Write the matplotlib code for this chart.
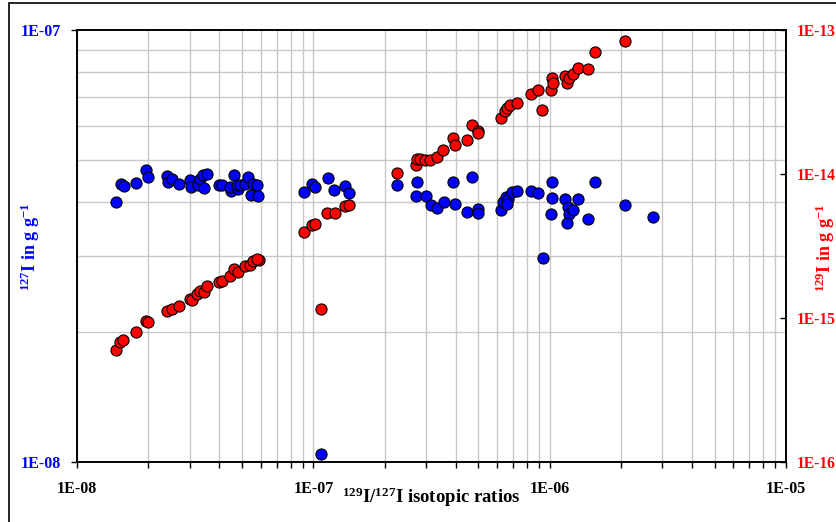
import matplotlib
matplotlib.use('Agg')
import matplotlib.pyplot as plt
from matplotlib.patches import Rectangle
from matplotlib.ticker import FixedLocator, FixedFormatter, NullFormatter, LogLocator

# 127I (left axis, blue) vs 129I/127I ratio
ratio_127 = [1.46e-8, 1.53e-8, 1.57e-8, 1.77e-8, 1.95e-8, 1.99e-8, 2.39e-8, 2.41e-8,
             2.52e-8, 2.70e-8, 3.00e-8, 3.03e-8, 3.24e-8, 3.31e-8, 3.42e-8, 3.53e-8,
             3.44e-8, 3.98e-8, 4.10e-8, 4.46e-8, 4.43e-8, 4.63e-8, 4.77e-8, 4.76e-8,
             4.89e-8, 5.11e-8, 5.28e-8, 5.42e-8, 5.56e-8, 5.85e-8, 5.77e-8,
             9.15e-8, 9.89e-8, 1.013e-7, 1.150e-7, 1.226e-7, 1.361e-7, 1.415e-7, 1.077e-7,
             2.26e-7, 2.74e-7, 2.72e-7, 3.00e-7, 3.14e-7, 3.33e-7, 3.57e-7, 3.91e-7,
             3.97e-7, 4.46e-7, 4.71e-7, 4.99e-7, 4.99e-7, 6.23e-7, 6.37e-7, 6.54e-7,
             6.69e-7, 6.59e-7, 6.92e-7, 7.26e-7, 8.37e-7, 8.91e-7, 9.35e-7, 1.022e-6,
             1.028e-6, 1.012e-6, 1.164e-6, 1.202e-6, 1.213e-6, 1.183e-6, 1.262e-6,
             1.324e-6, 1.455e-6, 1.563e-6, 2.09e-6, 2.74e-6]
i127 = [4.01e-8, 4.40e-8, 4.36e-8, 4.43e-8, 4.74e-8, 4.57e-8, 4.60e-8, 4.44e-8,
        4.51e-8, 4.41e-8, 4.49e-8, 4.33e-8, 4.37e-8, 4.51e-8, 4.61e-8, 4.65e-8,
        4.31e-8, 4.37e-8, 4.38e-8, 4.24e-8, 4.34e-8, 4.61e-8, 4.28e-8, 4.37e-8,
        4.38e-8, 4.41e-8, 4.56e-8, 4.16e-8, 4.41e-8, 4.12e-8, 4.37e-8,
        4.22e-8, 4.41e-8, 4.33e-8, 4.54e-8, 4.27e-8, 4.36e-8, 4.20e-8, 1.04e-8,
        4.37e-8, 4.44e-8, 4.14e-8, 4.14e-8, 3.93e-8, 3.88e-8, 4.01e-8, 4.46e-8,
        3.96e-8, 3.79e-8, 4.58e-8, 3.85e-8, 3.78e-8, 3.84e-8, 4.01e-8, 4.10e-8,
        4.06e-8, 3.96e-8, 4.21e-8, 4.23e-8, 4.25e-8, 4.19e-8, 2.96e-8, 4.46e-8,
        4.09e-8, 3.75e-8, 4.06e-8, 3.89e-8, 3.75e-8, 3.57e-8, 3.83e-8,
        4.06e-8, 3.65e-8, 4.45e-8, 3.93e-8, 3.69e-8]

# 129I (right axis, red) vs 129I/127I ratio
ratio_129 = [1.46e-8, 1.52e-8, 1.56e-8, 1.77e-8, 1.95e-8, 2.00e-8, 2.39e-8, 2.51e-8,
             2.70e-8, 3.00e-8, 3.05e-8, 3.21e-8, 3.32e-8, 3.45e-8, 3.54e-8, 3.97e-8,
             4.09e-8, 4.45e-8, 4.63e-8, 4.80e-8, 5.12e-8, 5.38e-8, 5.57e-8, 5.86e-8,
             5.75e-8,
             9.15e-8, 9.89e-8, 1.015e-7, 1.142e-7, 1.235e-7, 1.361e-7, 1.418e-7, 1.077e-7,
             2.26e-7, 2.72e-7, 2.74e-7, 2.83e-7, 2.97e-7, 3.12e-7, 3.33e-7, 3.55e-7,
             3.91e-7, 3.97e-7, 4.46e-7, 4.71e-7, 4.98e-7, 4.98e-7, 6.23e-7, 6.48e-7,
             6.63e-7, 6.80e-7, 7.26e-7, 8.37e-7, 8.91e-7, 9.32e-7, 1.012e-6, 1.022e-6,
             1.031e-6, 1.164e-6, 1.183e-6, 1.213e-6, 1.262e-6, 1.324e-6, 1.455e-6,
             1.563e-6, 2.09e-6]
i129 = [6.01e-16, 6.83e-16, 6.97e-16, 8.00e-16, 9.51e-16, 9.29e-16, 1.11e-15, 1.16e-15,
        1.21e-15, 1.36e-15, 1.33e-15, 1.46e-15, 1.54e-15, 1.51e-15, 1.67e-15, 1.78e-15,
        1.82e-15, 1.95e-15, 2.18e-15, 2.08e-15, 2.30e-15, 2.35e-15, 2.49e-15, 2.52e-15,
        2.58e-15,
        3.98e-15, 4.43e-15, 4.48e-15, 5.34e-15, 5.39e-15, 6.00e-15, 6.10e-15, 1.15e-15,
        1.01e-14, 1.157e-14, 1.27e-14, 1.27e-14, 1.25e-14, 1.25e-14, 1.32e-14, 1.46e-14,
        1.79e-14, 1.60e-14, 1.72e-14, 2.21e-14, 1.98e-14, 1.92e-14, 2.44e-14, 2.75e-14,
        2.90e-14, 3.01e-14, 3.14e-14, 3.62e-14, 3.83e-14, 2.81e-14, 3.85e-14, 4.64e-14,
        4.28e-14, 4.81e-14, 4.32e-14, 4.68e-14, 4.97e-14, 5.50e-14, 5.38e-14,
        7.10e-14, 8.38e-14]

x_ticks = [1e-8, 1e-7, 1e-6, 1e-5]
x_labels = ['1E-08', '1E-07', '1E-06', '1E-05']
left_ticks = [1e-8, 1e-7]
left_labels = ['1E-08', '1E-07']
right_ticks = [1e-16, 1e-15, 1e-14, 1e-13]
right_labels = ['1E-16', '1E-15', '1E-14', '1E-13']

plt.rcParams['font.family'] = 'Liberation Serif'
plt.rcParams['font.weight'] = 'bold'
plt.rcParams['mathtext.fontset'] = 'custom'
plt.rcParams['mathtext.rm'] = 'Liberation Serif:bold'
plt.rcParams['mathtext.it'] = 'Liberation Serif:bold'
plt.rcParams['mathtext.bf'] = 'Liberation Serif:bold'

W, H = 837, 522
fig = plt.figure(figsize=(W / 100, H / 100), dpi=100)
ax = fig.add_axes([77.3 / W, 60.3 / H, 708.4 / W, 431.4 / H])
ax2 = ax.twinx()

# outer chart border
fig.patches.append(Rectangle((9 / W, -0.05), 1.2, 1 - 3 / H + 0.05, transform=fig.transFigure,
                             fill=False, edgecolor='black', linewidth=1.2))

ax.set_xscale('log')
ax.set_yscale('log')
ax2.set_yscale('log')
ax.set_xlim(1e-8, 1e-5)
ax.set_ylim(1e-8, 1e-7)
ax2.set_ylim(1e-16, 1e-13)

ax.scatter(ratio_127, i127, s=64, c='#0000ff', edgecolors='black', linewidths=0.8, zorder=3)
ax2.scatter(ratio_129, i129, s=64, c='#ff0000', edgecolors='black', linewidths=0.8, zorder=3)

# grid
ax.set_axisbelow(True)
ax.xaxis.set_minor_locator(LogLocator(base=10, subs=range(2, 10)))
ax.yaxis.set_minor_locator(LogLocator(base=10, subs=range(2, 10)))
ax.grid(True, which='both', axis='x', color='#c8c8c8', linewidth=1)
ax.grid(True, which='minor', axis='y', color='#c8c8c8', linewidth=1)

# ticks
ax.xaxis.set_major_locator(FixedLocator(x_ticks))
ax.xaxis.set_major_formatter(FixedFormatter(x_labels))
ax.xaxis.set_minor_formatter(NullFormatter())
ax.yaxis.set_major_locator(FixedLocator(left_ticks))
ax.yaxis.set_major_formatter(FixedFormatter(left_labels))
ax.yaxis.set_minor_formatter(NullFormatter())
ax2.yaxis.set_major_locator(FixedLocator(right_ticks))
ax2.yaxis.set_major_formatter(FixedFormatter(right_labels))
ax2.yaxis.set_minor_locator(FixedLocator([]))

ax.tick_params(axis='x', which='both', direction='out', length=4, width=1, pad=10,
               labelsize=11.5, colors='black')
ax.tick_params(axis='y', which='major', direction='out', length=4, width=1, pad=8,
               labelsize=11.5, labelcolor='#0000ff')
ax.tick_params(axis='y', which='minor', length=0)
ax2.tick_params(axis='y', which='major', direction='in', length=4, width=1, pad=8,
                labelsize=11.2, labelcolor='#ff0000')

for a in (ax, ax2):
    for sp in a.spines.values():
        sp.set_color('black')
        sp.set_linewidth(1.2)

fig.text(431 / W, 1 - 497 / H, r'$^{129}$I/$^{127}$I isotopic ratios', ha='center', va='center',
         fontsize=13.5, fontweight='bold', color='black')
fig.text(30 / W, 1 - 247 / H, r'$^{127}$I in g g$^{-1}$', ha='center', va='center',
         rotation=90, fontsize=13, fontweight='bold', color='#0000ff')
fig.text(825 / W, 1 - 248 / H, r'$^{129}$I in g g$^{-1}$', ha='center', va='center',
         rotation=90, fontsize=13, fontweight='bold', color='#ff0000')

fig.savefig('out.png', dpi=100)
